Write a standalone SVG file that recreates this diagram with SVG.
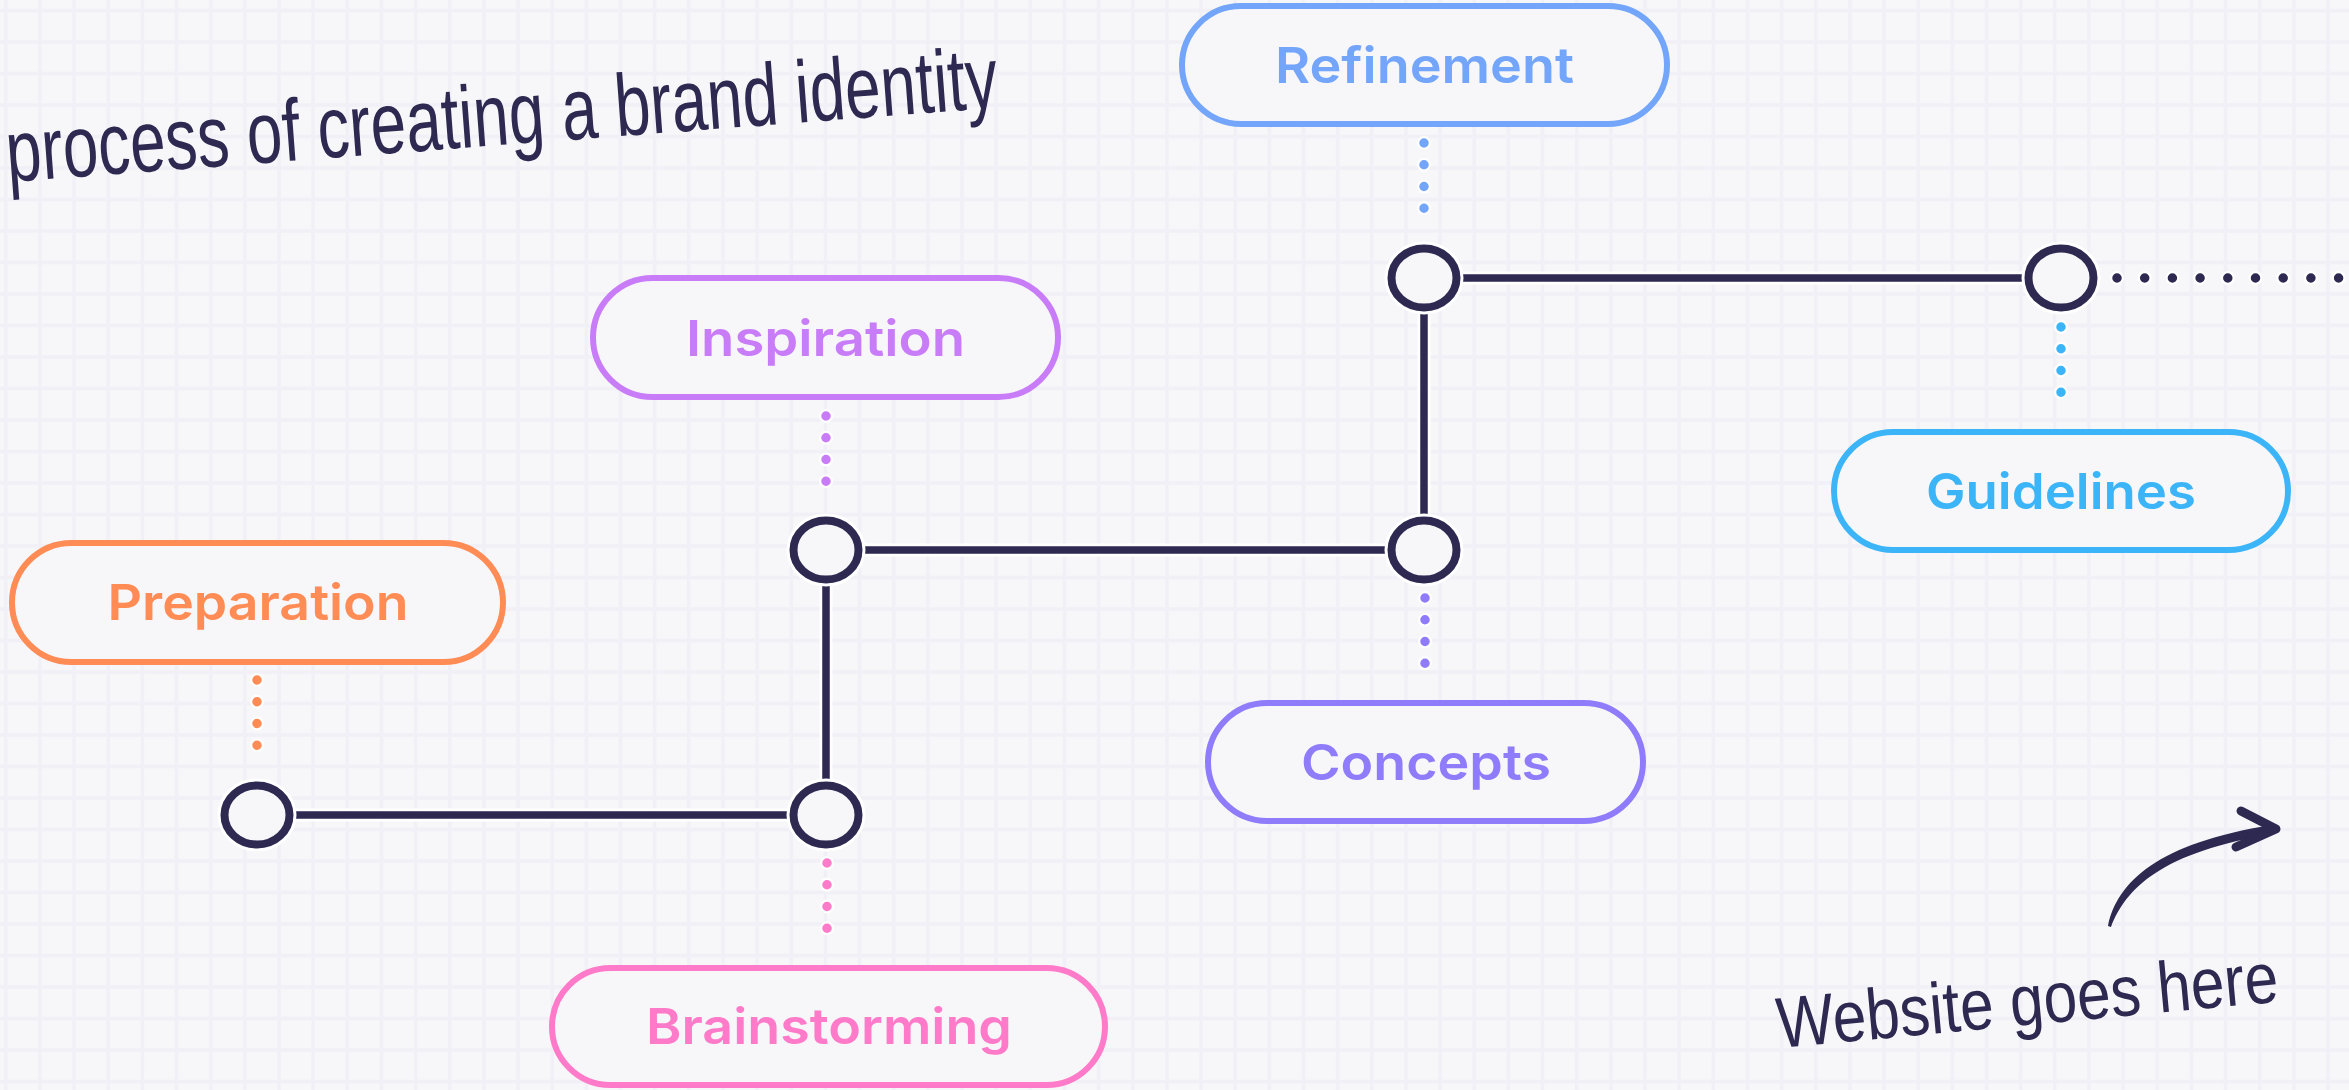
<svg xmlns="http://www.w3.org/2000/svg" width="2349" height="1090" viewBox="0 0 2349 1090">
  <style>
    .grid { stroke: #f0f0f6; stroke-width: 3.5; fill: none; }
    .pill { fill: #f7f7fa; stroke-width: 6; }
    .label { font-family: Inter, "Noto Sans", "Liberation Sans", sans-serif; font-weight: 600; font-size: 50px; text-anchor: middle; }
    .halo { stroke: #ffffff; fill: none; }
    .track { stroke: #2d2951; stroke-width: 7.5; fill: none; stroke-linejoin: miter; }
    .stop { fill: #f7f7fa; stroke: #2d2951; stroke-width: 8; }
    .stop-halo { fill: none; stroke: #ffffff; stroke-width: 14; }
    .dots { fill: none; stroke-width: 9.5; stroke-linecap: round; stroke-dasharray: 0 21.75; }
    .hand { font-family: "Liberation Sans", "DejaVu Sans", sans-serif; fill: #2d2951; }
  </style>

  <!-- paper background with grid -->
  <rect x="0" y="0" width="2349" height="1090" fill="#f7f7fa"/>
  <path class="grid" d="M5.8 0V1090M39.95 0V1090M74.1 0V1090M108.25 0V1090M142.4 0V1090M176.55 0V1090M210.7 0V1090M244.85 0V1090M279 0V1090M313.15 0V1090M347.3 0V1090M381.45 0V1090M415.6 0V1090M449.75 0V1090M483.9 0V1090M518.05 0V1090M552.2 0V1090M586.35 0V1090M620.5 0V1090M654.65 0V1090M688.8 0V1090M722.95 0V1090M757.1 0V1090M791.25 0V1090M825.4 0V1090M859.55 0V1090M893.7 0V1090M927.85 0V1090M962 0V1090M996.15 0V1090M1030.3 0V1090M1064.45 0V1090M1098.6 0V1090M1132.75 0V1090M1166.9 0V1090M1201.05 0V1090M1235.2 0V1090M1269.35 0V1090M1303.5 0V1090M1337.65 0V1090M1371.8 0V1090M1405.95 0V1090M1440.1 0V1090M1474.25 0V1090M1508.4 0V1090M1542.55 0V1090M1576.7 0V1090M1610.85 0V1090M1645 0V1090M1679.15 0V1090M1713.3 0V1090M1747.45 0V1090M1781.6 0V1090M1815.75 0V1090M1849.9 0V1090M1884.05 0V1090M1918.2 0V1090M1952.35 0V1090M1986.5 0V1090M2020.65 0V1090M2054.8 0V1090M2088.95 0V1090M2123.1 0V1090M2157.25 0V1090M2191.4 0V1090M2225.55 0V1090M2259.7 0V1090M2293.85 0V1090M2328 0V1090
  M0 10.5H2349M0 42H2349M0 73.5H2349M0 105H2349M0 136.5H2349M0 168H2349M0 199.5H2349M0 231H2349M0 262.5H2349M0 294H2349M0 325.5H2349M0 357H2349M0 388.5H2349M0 420H2349M0 451.5H2349M0 483H2349M0 514.5H2349M0 546H2349M0 577.5H2349M0 609H2349M0 640.5H2349M0 672H2349M0 703.5H2349M0 735H2349M0 766.5H2349M0 798H2349M0 829.5H2349M0 861H2349M0 892.5H2349M0 924H2349M0 955.5H2349M0 987H2349M0 1018.5H2349M0 1050H2349M0 1081.5H2349"/>

  <!-- connectors: main track, dotted leaders to labels, trailing dotted line -->
  <g id="connectors">
    <path class="halo" stroke-width="13" d="M257 815H826V550H1424V278H2061"/>
    <path class="track" d="M257 815H826V550H1424V278H2061"/>

    <g stroke="#ffffff" stroke-width="14" stroke-linecap="round" stroke-dasharray="0 21.75" fill="none">
      <path d="M257 680V767"/>
      <path d="M826 416V503"/>
      <path d="M827 863V950"/>
      <path d="M1425 598V685"/>
      <path d="M1424 143V230"/>
      <path d="M2061 327V414"/>
    </g>
    <path class="dots" stroke="#ff8b55" d="M257 680V767"/>
    <path class="dots" stroke="#c97cf8" d="M826 416V503"/>
    <path class="dots" stroke="#ff7ac8" d="M827 863V950"/>
    <path class="dots" stroke="#8f7cfa" d="M1425 598V685"/>
    <path class="dots" stroke="#73a5fa" d="M1424 143V230"/>
    <path class="dots" stroke="#3bb5f8" d="M2061 327V414"/>

    <path fill="none" stroke="#ffffff" stroke-width="14" stroke-linecap="round" stroke-dasharray="0 27.7" d="M2117 278H2360"/>
    <path fill="none" stroke="#2d2951" stroke-width="9.5" stroke-linecap="round" stroke-dasharray="0 27.7" d="M2117 278H2360"/>

    <!-- stops on the track -->
    <ellipse class="stop-halo" cx="257" cy="815" rx="32.5" ry="29.5"/>
    <ellipse class="stop-halo" cx="826" cy="815" rx="32.5" ry="29.5"/>
    <ellipse class="stop-halo" cx="826" cy="550" rx="32.5" ry="29.5"/>
    <ellipse class="stop-halo" cx="1424" cy="550" rx="32.5" ry="29.5"/>
    <ellipse class="stop-halo" cx="1424" cy="278" rx="32.5" ry="29.5"/>
    <ellipse class="stop-halo" cx="2061" cy="278" rx="32.5" ry="29.5"/>
    <ellipse class="stop" cx="257" cy="815" rx="32.5" ry="29.5"/>
    <ellipse class="stop" cx="826" cy="815" rx="32.5" ry="29.5"/>
    <ellipse class="stop" cx="826" cy="550" rx="32.5" ry="29.5"/>
    <ellipse class="stop" cx="1424" cy="550" rx="32.5" ry="29.5"/>
    <ellipse class="stop" cx="1424" cy="278" rx="32.5" ry="29.5"/>
    <ellipse class="stop" cx="2061" cy="278" rx="32.5" ry="29.5"/>
  </g>

  <g id="preparation">
    <rect class="pill" stroke="#ff8b55" x="12" y="543" width="491" height="119" rx="59.5"/>
    <text class="label" fill="#ff8b55" x="258" y="620" textLength="301" lengthAdjust="spacingAndGlyphs">Preparation</text>
  </g>

  <g id="inspiration">
    <rect class="pill" stroke="#c97cf8" x="593" y="278" width="465" height="119" rx="59.5"/>
    <text class="label" fill="#c97cf8" x="825.5" y="356" textLength="279" lengthAdjust="spacingAndGlyphs">Inspiration</text>
  </g>

  <g id="brainstorming">
    <rect class="pill" stroke="#ff7ac8" x="552" y="968" width="553" height="117" rx="58.5"/>
    <text class="label" fill="#ff7ac8" x="829" y="1044" textLength="366" lengthAdjust="spacingAndGlyphs">Brainstorming</text>
  </g>

  <g id="concepts">
    <rect class="pill" stroke="#8f7cfa" x="1208" y="703" width="435" height="118" rx="59"/>
    <text class="label" fill="#8f7cfa" x="1426" y="780" textLength="250" lengthAdjust="spacingAndGlyphs">Concepts</text>
  </g>

  <g id="refinement">
    <rect class="pill" stroke="#73a5fa" x="1182" y="6" width="485" height="118" rx="59"/>
    <text class="label" fill="#73a5fa" x="1424.5" y="83" textLength="299" lengthAdjust="spacingAndGlyphs">Refinement</text>
  </g>

  <g id="guidelines">
    <rect class="pill" stroke="#3bb5f8" x="1834" y="432" width="454" height="118" rx="59"/>
    <text class="label" fill="#3bb5f8" x="2061" y="509" textLength="270" lengthAdjust="spacingAndGlyphs">Guidelines</text>
  </g>

  <!-- handwritten notes, condensed by a horizontal scale -->
  <g id="title">
    <text class="hand" x="0" y="0" font-size="88" transform="translate(8 182) rotate(-4.3) scale(0.726 1)">process of creating a brand identity</text>
  </g>

  <g id="website-note">
    <text class="hand" x="0" y="0" font-size="72" transform="translate(1779 1048) rotate(-5.3) scale(0.84 1)">Website goes here</text>
    <path fill="#2d2951" d="M2108 926C2117 882 2158 843 2272 825L2273 834C2162 852 2126 888 2111 927Z"/>
    <path fill="none" stroke="#2d2951" stroke-width="9" stroke-linecap="round" stroke-linejoin="round" d="M2241 811L2276 829L2236 847"/>
  </g>
</svg>
